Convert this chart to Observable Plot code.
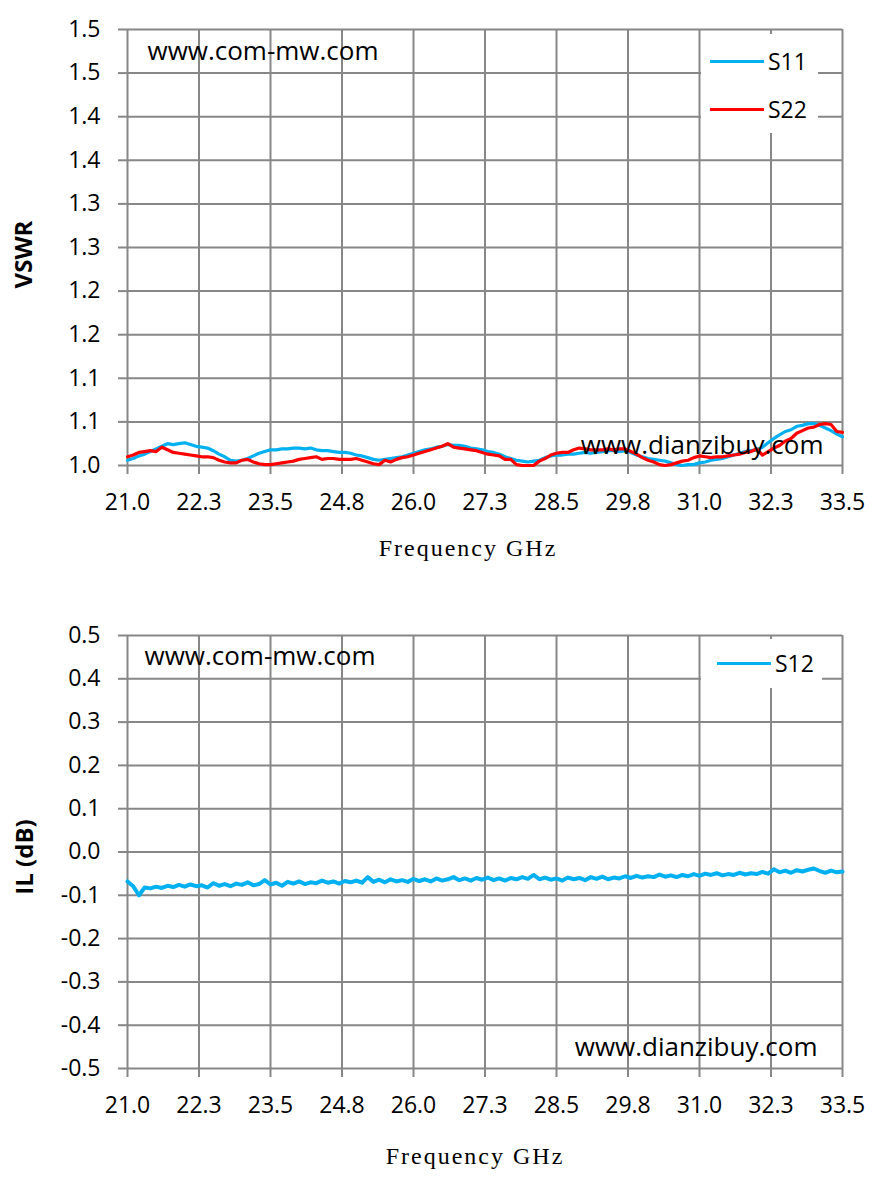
<!DOCTYPE html>
<html>
<head>
<meta charset="utf-8">
<script src="https://cdn.jsdelivr.net/npm/d3@7"></script>
<script src="https://cdn.jsdelivr.net/npm/@observablehq/plot@0.6"></script>
<style>
html, body { margin: 0; padding: 0; background: #fff; overflow: hidden; }
#wrap { position: relative; width: 885px; height: 1182px; font-family: 'Open Sans', sans-serif; }
#wrap svg { display: block; }
.legend { position: absolute; background: #fff; }
.legend .item { position: absolute; display: flex; align-items: center; height: 30px; line-height: 30px; font-size: 23px; color: #000; }
.legend .sw { width: 54px; height: 0; border-top: 3px solid; margin-right: 4px; }
</style>
</head>
<body>
<div id="wrap"></div>
<script>
// ---------- data ----------
const freqGHz = [
21.0,21.1,21.2,21.3,21.4,21.5,21.6,21.7,21.8,21.9,
22.0,22.1,22.2,22.3,22.4,22.5,22.6,22.7,22.8,22.9,
23.0,23.1,23.2,23.3,23.4,23.5,23.6,23.7,23.8,23.9,
24.0,24.1,24.2,24.3,24.4,24.5,24.6,24.7,24.8,24.9,
25.0,25.1,25.2,25.3,25.4,25.5,25.6,25.7,25.8,25.9,
26.0,26.1,26.2,26.3,26.4,26.5,26.6,26.7,26.8,26.9,
27.0,27.1,27.2,27.3,27.4,27.5,27.6,27.7,27.8,27.9,
28.0,28.1,28.2,28.3,28.4,28.5,28.6,28.7,28.8,28.9,
29.0,29.1,29.2,29.3,29.4,29.5,29.6,29.7,29.8,29.9,
30.0,30.1,30.2,30.3,30.4,30.5,30.6,30.7,30.8,30.9,
31.0,31.1,31.2,31.3,31.4,31.5,31.6,31.7,31.8,31.9,
32.0,32.1,32.2,32.3,32.4,32.5,32.6,32.7,32.8,32.9,
33.0,33.1,33.2,33.3,33.4,33.5
];
const s11 = [
1.006,1.008,1.011,1.013,1.016,1.019,1.022,1.025,1.024,1.025,
1.026,1.024,1.022,1.021,1.020,1.017,1.013,1.010,1.006,1.005,
1.006,1.008,1.011,1.014,1.016,1.018,1.018,1.019,1.019,1.020,
1.020,1.019,1.020,1.018,1.017,1.017,1.016,1.015,1.015,1.014,
1.012,1.011,1.009,1.007,1.006,1.007,1.008,1.009,1.010,1.012,
1.014,1.016,1.018,1.019,1.021,1.022,1.024,1.023,1.023,1.022,
1.020,1.019,1.018,1.016,1.015,1.013,1.010,1.008,1.006,1.005,
1.004,1.005,1.006,1.009,1.011,1.012,1.012,1.013,1.013,1.014,
1.015,1.014,1.015,1.016,1.017,1.017,1.016,1.017,1.015,1.012,
1.010,1.008,1.007,1.006,1.005,1.003,1.001,1.000,1.001,1.001,
1.003,1.004,1.006,1.007,1.008,1.010,1.012,1.014,1.016,1.017,
1.018,1.021,1.026,1.031,1.035,1.039,1.041,1.045,1.046,1.048,
1.048,1.046,1.043,1.040,1.036,1.033
];
const s22 = [
1.010,1.012,1.015,1.016,1.017,1.016,1.021,1.018,1.015,1.014,
1.013,1.012,1.011,1.010,1.010,1.009,1.006,1.004,1.003,1.003,
1.006,1.007,1.004,1.002,1.001,1.001,1.002,1.003,1.004,1.005,
1.007,1.008,1.009,1.010,1.007,1.008,1.008,1.007,1.007,1.007,
1.008,1.006,1.004,1.002,1.001,1.006,1.004,1.007,1.009,1.010,
1.012,1.014,1.016,1.018,1.020,1.022,1.025,1.021,1.020,1.019,
1.018,1.017,1.015,1.013,1.012,1.011,1.007,1.007,1.001,1.000,
1.000,1.000,1.005,1.008,1.012,1.014,1.015,1.015,1.018,1.020,
1.019,1.018,1.018,1.018,1.019,1.018,1.019,1.019,1.016,1.013,
1.009,1.006,1.004,1.001,1.000,1.001,1.003,1.005,1.006,1.009,
1.011,1.010,1.009,1.010,1.010,1.011,1.012,1.013,1.015,1.016,
1.019,1.012,1.016,1.020,1.023,1.028,1.031,1.037,1.040,1.043,
1.044,1.047,1.048,1.047,1.039,1.038
];
const s12 = [
-0.068,-0.079,-0.100,-0.082,-0.084,-0.080,-0.083,-0.078,-0.081,-0.076,
-0.080,-0.075,-0.079,-0.077,-0.082,-0.072,-0.078,-0.074,-0.079,-0.073,
-0.076,-0.070,-0.077,-0.074,-0.065,-0.075,-0.071,-0.078,-0.069,-0.073,
-0.068,-0.074,-0.070,-0.072,-0.066,-0.071,-0.068,-0.073,-0.067,-0.070,
-0.066,-0.071,-0.058,-0.069,-0.064,-0.070,-0.063,-0.068,-0.065,-0.069,
-0.062,-0.067,-0.063,-0.068,-0.061,-0.066,-0.063,-0.058,-0.065,-0.061,
-0.066,-0.060,-0.064,-0.059,-0.065,-0.061,-0.066,-0.060,-0.063,-0.058,
-0.062,-0.053,-0.063,-0.059,-0.064,-0.061,-0.066,-0.059,-0.063,-0.060,
-0.065,-0.058,-0.062,-0.057,-0.063,-0.059,-0.061,-0.056,-0.060,-0.055,
-0.059,-0.056,-0.058,-0.052,-0.057,-0.054,-0.058,-0.053,-0.056,-0.051,
-0.055,-0.050,-0.053,-0.049,-0.054,-0.051,-0.053,-0.048,-0.052,-0.049,
-0.051,-0.046,-0.050,-0.040,-0.047,-0.043,-0.048,-0.042,-0.045,-0.041,
-0.038,-0.044,-0.048,-0.043,-0.047,-0.045
];

const xTicks = [21.0,22.25,23.5,24.75,26.0,27.25,28.5,29.75,31.0,32.25,33.5];
const xTickLabels = ["21.0","22.3","23.5","24.8","26.0","27.3","28.5","29.8","31.0","32.3","33.5"];
const vswrTicks = [1.00,1.05,1.10,1.15,1.20,1.25,1.30,1.35,1.40,1.45,1.50];
const vswrTickLabels = ["1.0","1.1","1.1","1.2","1.2","1.3","1.3","1.4","1.4","1.5","1.5"];
const ilTicks = [-0.5,-0.4,-0.3,-0.2,-0.1,0,0.1,0.2,0.3,0.4,0.5];
const ilTickLabels = ["-0.5","-0.4","-0.3","-0.2","-0.1","0.0","0.1","0.2","0.3","0.4","0.5"];

const xTitle = "Frequency GHz";
const vswrTitle = "VSWR";
const ilTitle = "IL (dB)";
const watermarkTop = "www.com-mw.com";
const watermarkBottom = "www.dianzibuy.com";
const seriesNames = ["S11", "S22", "S12"];

// ---------- styles ----------
const GRID = "#878787";
const BLUE = "#00B0F0";
const RED = "#FF0000";

const rowsOf = (vals, name) => freqGHz.map((f, i) => ({f, v: vals[i], series: name}));

function makePanel(cfg) {
  const xFmt = new Map(xTicks.map((v, i) => [v, xTickLabels[i]]));
  const yFmt = new Map(cfg.yTicks.map((v, i) => [v, cfg.yLabels[i]]));
  const svg = Plot.plot({
    width: 885,
    height: cfg.height,
    marginTop: cfg.mt,
    marginBottom: cfg.mb,
    marginLeft: 127,
    marginRight: 43,
    x: {domain: [21, 33.5]},
    y: {domain: cfg.yDomain},
    style: {fontFamily: "'Open Sans', sans-serif", fontSize: "23px", color: "#000", background: "#fff", overflow: "visible"},
    marks: [
      Plot.ruleY(cfg.yTicks, {stroke: GRID, strokeWidth: 2}),
      Plot.ruleX(xTicks, {stroke: GRID, strokeWidth: 2}),
      Plot.axisY(cfg.yTicks, {tickFormat: d => yFmt.get(d), tickSize: 9, tickPadding: 18, stroke: GRID, strokeWidth: 2, fill: "#000", fontSize: 23, label: null}),
      Plot.axisX(xTicks, {tickFormat: d => xFmt.get(d), tickSize: 9, tickPadding: 19, stroke: GRID, strokeWidth: 2, fill: "#000", fontSize: 23, label: null}),
      ...cfg.series.map(s => Plot.line(s.rows, {x: "f", y: "v", stroke: s.color, strokeWidth: s.width, strokeLinejoin: "round"})),
      Plot.text([watermarkTop], {text: d => d, frameAnchor: "top-left", textAnchor: "start", lineAnchor: "middle", dx: cfg.wm1dx, dy: cfg.wm1dy, fontSize: 26, fill: "#000"}),
      Plot.text([watermarkBottom], {text: d => d, frameAnchor: "bottom-right", textAnchor: "end", lineAnchor: "middle", dx: cfg.wm2dx, dy: cfg.wm2dy, fontSize: 26, fill: "#000"}),
      Plot.text([cfg.yTitle], {text: d => d, frameAnchor: "left", textAnchor: "middle", lineAnchor: "middle", rotate: -90, dx: cfg.ytdx, dy: cfg.ytdy, fontSize: 24, fontWeight: "bold", fill: "#000"}),
      Plot.text([xTitle], {text: d => d, frameAnchor: "bottom", textAnchor: "middle", lineAnchor: "middle", dx: cfg.xtdx, dy: cfg.xtdy, fontSize: 24, fontFamily: "'Liberation Serif', serif", fill: "#000"})
    ]
  });
  d3.select(svg).selectAll("text").filter(function () { return this.textContent === xTitle; }).attr("letter-spacing", 2);
  return svg;
}

const wrap = document.getElementById("wrap");

wrap.appendChild(makePanel({
  height: 590, mt: 29, mb: 125,
  yDomain: [1, 1.5], yTicks: vswrTicks, yLabels: vswrTickLabels,
  series: [
    {rows: rowsOf(s11, seriesNames[0]), color: BLUE, width: 3.2},
    {rows: rowsOf(s22, seriesNames[1]), color: RED, width: 3.2}
  ],
  yTitle: vswrTitle, ytdx: -103, ytdy: 7,
  xtdx: -17, xtdy: 83,
  wm1dx: 20, wm1dy: 22, wm2dx: -19, wm2dy: -20
}));

wrap.appendChild(makePanel({
  height: 592, mt: 45, mb: 114,
  yDomain: [-0.5, 0.5], yTicks: ilTicks, yLabels: ilTickLabels,
  series: [
    {rows: rowsOf(s12, seriesNames[2]), color: BLUE, width: 4}
  ],
  yTitle: ilTitle, ytdx: -102, ytdy: 5,
  xtdx: -10, xtdy: 88,
  wm1dx: 17, wm1dy: 21, wm2dx: -25, wm2dy: -21
}));

// ---------- legends ----------
function legend(box, items) {
  const div = document.createElement("div");
  div.className = "legend";
  Object.assign(div.style, {left: box.left + "px", top: box.top + "px", width: box.width + "px", height: box.height + "px"});
  for (const it of items) {
    const row = document.createElement("div");
    row.className = "item";
    row.style.left = it.left + "px";
    row.style.top = it.top + "px";
    const sw = document.createElement("span");
    sw.className = "sw";
    sw.style.borderTopColor = it.color;
    const label = document.createElement("span");
    label.textContent = it.name;
    row.appendChild(sw);
    row.appendChild(label);
    div.appendChild(row);
  }
  wrap.appendChild(div);
}
legend({left: 701, top: 34, width: 117, height: 99}, [
  {name: seriesNames[0], color: BLUE, left: 9, top: 12},
  {name: seriesNames[1], color: RED, left: 9, top: 60}
]);
legend({left: 701, top: 639, width: 121, height: 49}, [
  {name: seriesNames[2], color: BLUE, left: 16, top: 9}
]);
</script>
</body>
</html>
